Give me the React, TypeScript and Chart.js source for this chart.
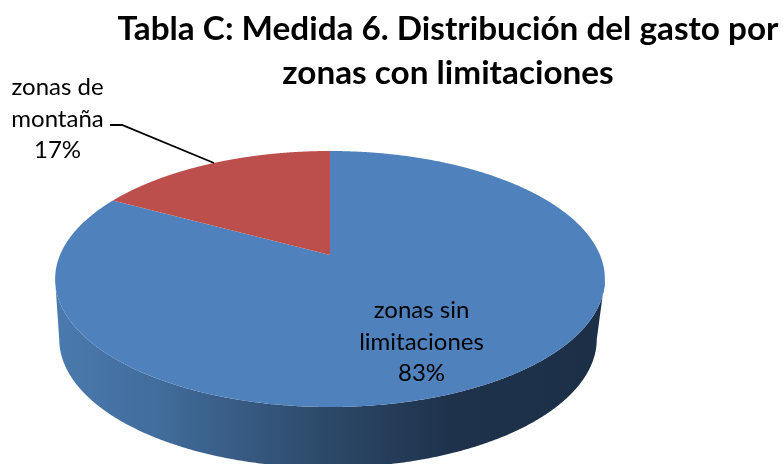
import React, { useEffect, useRef } from "react";
import { Chart, registerables } from "chart.js";

Chart.register(...registerables);

const titleLines = ["Tabla C: Medida 6. Distribución del gasto por", "zonas con limitaciones"];
const categories = ["zonas sin limitaciones", "zonas de montaña"];
const categoryLines = [["zonas sin", "limitaciones"], ["zonas de", "montaña"]];
const shares = [83, 17];
const topColors = ["#4f81bd", "#bc4f4c"];

const FONT = "Lato, 'Noto Sans', sans-serif";

const pieGeometry = { cx: 330, apexY: 255, radius: 270, foreshorten: 123.5, tilt: 0.1875 };
const baseGeometry = { cx: 328, apexY: 315, radius: 264, foreshorten: 124, tilt: 0.1875 };
const labelAnchors = [
  { x: 421.5, y: 311 },
  { x: 57.5, y: 88 },
];
const labelLineHeight = 31.5;
const leader = [[110, 125], [122, 125], [214, 163]];

type Geo = typeof pieGeometry;

function project(g: Geo, angle: number) {
  // Chart.js angle: 0 points right, growing clockwise.
  const u = Math.cos(angle);
  const v = -Math.sin(angle);
  const d = 1 + g.tilt * v;
  return { x: g.cx + (g.radius * u) / d, y: g.apexY - (g.foreshorten * v) / d };
}

const pie3d = {
  id: "pie3d",
  beforeDatasetDraw(chart: any) {
    const ctx: CanvasRenderingContext2D = chart.ctx;
    const arcs = chart.getDatasetMeta(0).data;
    const steps = 720;
    ctx.save();

    const grad = ctx.createLinearGradient(55, 0, 605, 0);
    grad.addColorStop(0, "#4a7aae");
    grad.addColorStop(0.18, "#426d9d");
    grad.addColorStop(0.5, "#2c4868");
    grad.addColorStop(0.72, "#1e324b");
    grad.addColorStop(1, "#1c2f47");
    ctx.fillStyle = grad;

    // Front wall of each slice, between the two silhouette tangents of the rim.
    arcs.forEach((arc: any) => {
      const span = arc.endAngle - arc.startAngle;
      const rim: number[] = [];
      for (let i = 0; i <= steps; i++) {
        const a = arc.startAngle + (span * i) / steps;
        if (Math.sin(a) >= pieGeometry.tilt) rim.push(a);
      }
      if (!rim.length) return;
      ctx.beginPath();
      rim.forEach((a, i) => {
        const p = project(pieGeometry, a);
        if (i === 0) ctx.moveTo(p.x, p.y);
        else ctx.lineTo(p.x, p.y);
      });
      [...rim].reverse().forEach((a) => {
        const q = project(baseGeometry, a);
        ctx.lineTo(q.x, q.y);
      });
      ctx.closePath();
      ctx.fill();
    });

    arcs.forEach((arc: any, idx: number) => {
      const span = arc.endAngle - arc.startAngle;
      ctx.beginPath();
      ctx.moveTo(pieGeometry.cx, pieGeometry.apexY);
      for (let i = 0; i <= steps; i++) {
        const p = project(pieGeometry, arc.startAngle + (span * i) / steps);
        ctx.lineTo(p.x, p.y);
      }
      ctx.closePath();
      ctx.fillStyle = topColors[idx];
      ctx.fill();
    });

    ctx.restore();
    return false;
  },
  afterDraw(chart: any) {
    const ctx: CanvasRenderingContext2D = chart.ctx;
    ctx.save();
    ctx.strokeStyle = "#000000";
    ctx.lineWidth = 1.8;
    ctx.beginPath();
    leader.forEach(([x, y], i) => (i === 0 ? ctx.moveTo(x, y) : ctx.lineTo(x, y)));
    ctx.stroke();

    ctx.fillStyle = "#000000";
    ctx.font = `24px ${FONT}`;
    ctx.textAlign = "center";
    ctx.textBaseline = "alphabetic";
    categories.forEach((_, i) => {
      const lines = [...categoryLines[i], `${shares[i]}%`];
      lines.forEach((line, k) => {
        ctx.fillText(line, labelAnchors[i].x, labelAnchors[i].y + k * labelLineHeight + 7);
      });
    });
    ctx.restore();
  },
};

export default function App() {
  const ref = useRef<HTMLCanvasElement>(null);
  useEffect(() => {
    document.body.style.margin = "0";
    const chart = new Chart(ref.current!, {
      type: "pie",
      data: {
        labels: categories,
        datasets: [{ data: shares, backgroundColor: topColors, borderWidth: 0 }],
      },
      options: {
        animation: false,
        responsive: false,
        layout: { padding: { left: 113, right: 0, top: 0, bottom: 0 } },
        plugins: {
          legend: { display: false },
          tooltip: { enabled: false },
          title: {
            display: true,
            text: titleLines,
            color: "#000000",
            align: "center",
            fullSize: false,
            font: { family: FONT, size: 33.3, weight: "bold", lineHeight: 1.3 },
            padding: { top: 8, bottom: 0 },
          },
        },
      },
      plugins: [pie3d],
    } as any);
    return () => chart.destroy();
  }, []);
  return <canvas ref={ref} width={783} height={464} style={{ display: "block" }} />;
}
